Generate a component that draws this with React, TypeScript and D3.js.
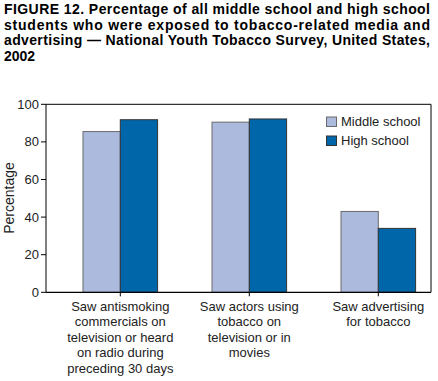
import React from "react";
import * as d3 from "d3";

const categories = ["antismoking", "actors", "advertising"];
const categoryLabels = [
  ["Saw antismoking", "commercials on", "television or heard", "on radio during", "preceding 30 days"],
  ["Saw actors using", "tobacco on", "television or in", "movies"],
  ["Saw advertising", "for tobacco"],
];
const seriesNames = ["Middle school", "High school"];
const middleSchool = [85.5, 90.5, 43.0];
const highSchool = [91.8, 92.2, 34.0];
const yTicks = [0, 20, 40, 60, 80, 100];
const titleLines = [
  "FIGURE 12. Percentage of all middle school and high school",
  "students who were exposed to tobacco-related media and",
  "advertising \u2014 National Youth Tobacco Survey, United States,",
  "2002",
];

const colors = ["#acbadd", "#0066aa"];
const strokes = ["#6a6a6a", "#333333"];

export default function App() {
  const W = 438, H = 381;
  const left = 46, right = 431, top = 104.3, bottom = 292.3;
  const y = d3.scaleLinear().domain([0, 100]).range([bottom, top]);
  const x = d3.scalePoint<string>().domain(categories).range([120.3, 378.3]);
  const bw = 37.3;
  const font = "'Liberation Sans', Arial, Helvetica, sans-serif";
  const series = [middleSchool, highSchool];

  return (
    <svg width={W} height={H} style={{ position: "absolute", left: 0, top: 0 }} fontFamily={font}>
      <rect width={W} height={H} fill="#fff" />
      {titleLines.map((t, i) => (
        <text
          key={i}
          x={4}
          y={14 + i * 15.7}
          fontSize={14}
          fontWeight="bold"
          fill="#000"
          {...(i < titleLines.length - 1 ? { textLength: 426, lengthAdjust: "spacing" } : {})}
        >
          {t}
        </text>
      ))}
      {/* bars */}
      {categories.map((c, ci) =>
        series.map((s, si) => {
          const x0 = (x(c) as number) + (si === 0 ? -bw : 0);
          return (
            <rect
              key={c + si}
              x={x0}
              y={y(s[ci])}
              width={bw}
              height={y(0) - y(s[ci])}
              fill={colors[si]}
              stroke={strokes[si]}
              strokeWidth={1}
            />
          );
        })
      )}
      {/* frame */}
      <path d={`M${left},${bottom}V${top}H${right}V${bottom}`} fill="none" stroke="#000" strokeWidth={1} />
      <line x1={left} x2={right} y1={bottom} y2={bottom} stroke="#000" strokeWidth={1.2} />
      {/* y ticks */}
      {yTicks.map((t) => (
        <g key={t}>
          <line x1={left - 5} x2={left} y1={y(t)} y2={y(t)} stroke="#000" />
          <text x={left - 7} y={y(t)} dy="0.35em" textAnchor="end" fontSize={13} fill="#222">
            {t}
          </text>
        </g>
      ))}
      <text
        transform={`translate(14,198) rotate(-90)`}
        textAnchor="middle"
        fontSize={14}
        fill="#222"
      >
        Percentage
      </text>
      {/* x ticks and labels */}
      {categories.map((c, ci) => (
        <g key={c}>
          <line x1={x(c)} x2={x(c)} y1={bottom} y2={bottom + 4} stroke="#000" />
          {categoryLabels[ci].map((l, li) => (
            <text
              key={li}
              x={x(c)}
              y={310.7 + li * 15.5}
              textAnchor="middle"
              fontSize={13}
              fill="#222"
            >
              {l}
            </text>
          ))}
        </g>
      ))}
      {/* legend */}
      {seriesNames.map((n, i) => (
        <g key={n}>
          <rect
            x={326.5}
            y={117 + i * 19}
            width={10}
            height={9.5}
            fill={colors[i]}
            stroke={strokes[i]}
          />
          <text x={341} y={125.5 + i * 19} fontSize={13} fill="#222">
            {n}
          </text>
        </g>
      ))}
    </svg>
  );
}
